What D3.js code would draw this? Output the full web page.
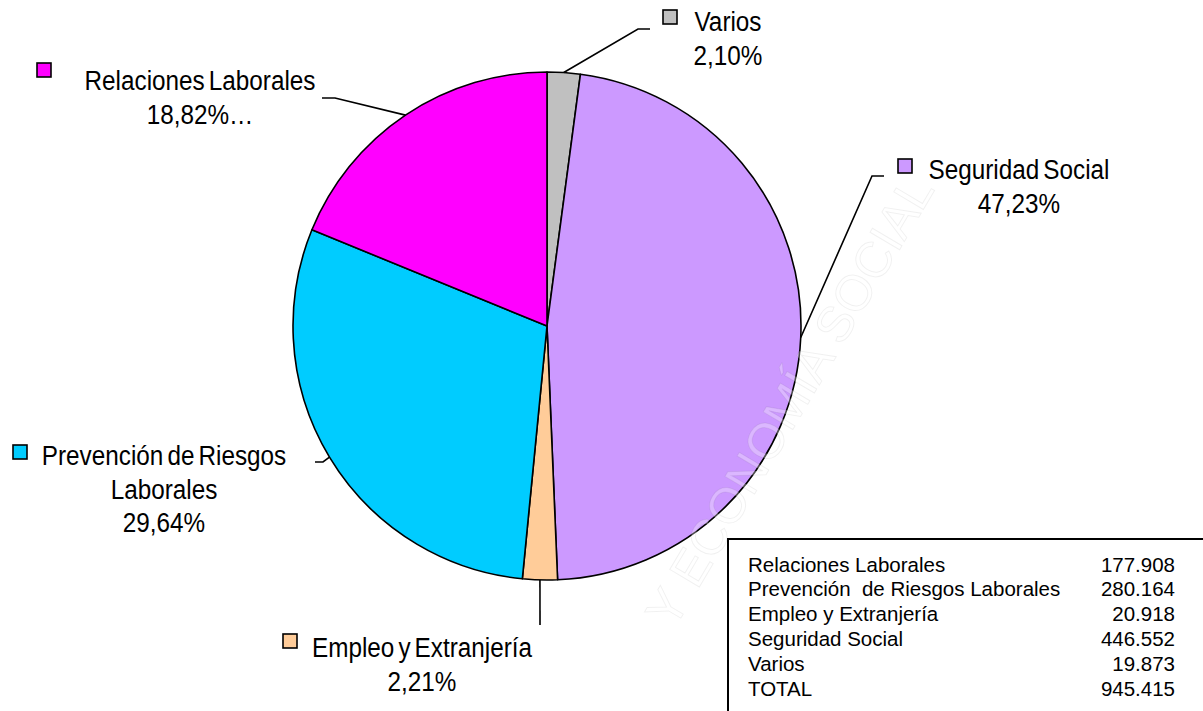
<!DOCTYPE html>
<html>
<head>
<meta charset="utf-8">
<script src="https://cdn.jsdelivr.net/npm/d3@7"></script>
<style>
  html, body { margin: 0; padding: 0; background: #fff; }
  svg { display: block; }
  text { font-family: "Liberation Sans", Arial, sans-serif; }
</style>
</head>
<body>
<svg id="chart" width="1203" height="711"></svg>
<script>
// data, pie order = clockwise from 12 o'clock
const categories = ["Varios", "Seguridad Social", "Empleo y Extranjería", "Prevención de Riesgos Laborales", "Relaciones Laborales"];
const values = [19873, 446552, 20918, 280164, 177908];
const percents = [2.10, 47.23, 2.21, 29.64, 18.82];
const colors = ["#C0C0C0", "#CC99FF", "#FFCC99", "#00CCFF", "#FF00FF"];

// table rows (order as in the box)
const tableNames = ["Relaciones Laborales", "Prevención  de Riesgos Laborales", "Empleo y Extranjería", "Seguridad Social", "Varios"];
const tableValues = [177908, 280164, 20918, 446552, 19873];

const width = 1203, height = 711;
const cx = 547, cy = 326, radius = 254;

const svg = d3.select("#chart");

const esLocale = d3.formatLocale({decimal: ",", thousands: ".", grouping: [3], currency: ["", " €"]});
const fmtNum = esLocale.format(",d");
const fmtPct = esLocale.format(".2f");

// label layout (where each callout sits)
const layout = {
    "Varios":                          {lines: ["Varios"], suffix: "", x: 728, y: 31, sq: [663, 10], path: [[638, 29], [650, 29]]},
    "Seguridad Social":                {lines: ["Seguridad Social"], suffix: "", x: 1019, y: 179, sq: [898, 159], path: [[872, 176], [884, 176]]},
    "Empleo y Extranjería":            {lines: ["Empleo y Extranjería"], suffix: "", x: 422, y: 657, sq: [283, 634], path: [[540, 625]]},
    "Prevención de Riesgos Laborales": {lines: ["Prevención de Riesgos", "Laborales"], suffix: "", x: 164, y: 465, sq: [13, 445], path: [[323, 462], [315, 462]]},
    "Relaciones Laborales":            {lines: ["Relaciones Laborales"], suffix: "…", x: 200, y: 90, sq: [37, 63], path: [[335, 98], [322, 98]]}
};

const data = categories.map((c, i) => ({name: c, value: values[i], pct: percents[i], color: colors[i]}));

const pie = d3.pie().sort(null).value(d => d.value);
const arc = d3.arc().innerRadius(0).outerRadius(radius);
const arcs = pie(data);

const g = svg.append("g").attr("transform", `translate(${cx},${cy})`);
g.selectAll("path.slice")
    .data(arcs)
    .enter()
    .append("path")
    .attr("class", "slice")
    .attr("d", arc)
    .attr("fill", d => d.data.color)
    .attr("stroke", "#000")
    .attr("stroke-width", 1.6)
    .attr("stroke-linejoin", "round");

// leader lines from the middle of each slice's arc
const line = d3.line();
arcs.forEach(a => {
    const mid = (a.startAngle + a.endAngle) / 2;
    const start = [cx + radius * Math.sin(mid), cy - radius * Math.cos(mid)];
    const L = layout[a.data.name];
    svg.append("path")
        .attr("d", line([start].concat(L.path)))
        .attr("fill", "none")
        .attr("stroke", "#000")
        .attr("stroke-width", 1.6);
});

// callout labels
const lineH = 33.5;
arcs.forEach(a => {
    const L = layout[a.data.name];
    svg.append("rect")
        .attr("x", L.sq[0]).attr("y", L.sq[1])
        .attr("width", 14).attr("height", 14)
        .attr("fill", a.data.color)
        .attr("stroke", "#000")
        .attr("stroke-width", 1.6);
    const lines = L.lines.concat([fmtPct(a.data.pct) + "%" + L.suffix]);
    lines.forEach((t, i) => {
        svg.append("text")
            .attr("transform", `translate(${L.x},${L.y + i * lineH}) scale(0.9,1)`)
            .attr("text-anchor", "middle")
            .attr("font-size", 27)
            .attr("word-spacing", -3)
            .attr("fill", "#000")
            .text(t);
    });
});

// faint watermark (only the visible part of it sits on the page)
svg.append("text")
    .attr("transform", "translate(920,180) rotate(-59.3)")
    .attr("text-anchor", "end")
    .attr("font-size", 50)
    .attr("dy", 18)
    .attr("fill", "#fff")
    .attr("fill-opacity", 0.3)
    .attr("stroke", "#000")
    .attr("stroke-opacity", 0.06)
    .attr("stroke-width", 1)
    .text("Y ECONOMÍA SOCIAL");

// values table
const box = svg.append("g");
box.append("rect")
    .attr("x", 728).attr("y", 539)
    .attr("width", 520).attr("height", 220)
    .attr("fill", "#fff")
    .attr("stroke", "#000")
    .attr("stroke-width", 2);

const rows = tableNames.map((n, i) => ({name: n, value: tableValues[i]}))
    .concat([{name: "TOTAL", value: d3.sum(tableValues)}]);
const rowY = d3.scalePoint().domain(d3.range(rows.length)).range([571.5, 696]);

rows.forEach((r, i) => {
    box.append("text")
        .attr("x", 748).attr("y", rowY(i))
        .attr("font-size", 20.5)
        .style("white-space", "pre")
        .attr("fill", "#000")
        .text(r.name);
    box.append("text")
        .attr("x", 1175).attr("y", rowY(i))
        .attr("text-anchor", "end")
        .attr("font-size", 20.5)
        .attr("fill", "#000")
        .text(fmtNum(r.value));
});
</script>
</body>
</html>
